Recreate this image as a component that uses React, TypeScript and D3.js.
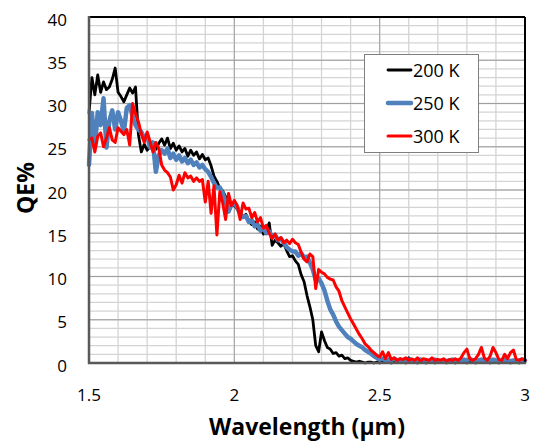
import React from "react";
import * as d3 from "d3";

const WL_START = 1.5;
const WL_STEP = 0.01;

const SERIES_NAMES = ["200 K", "250 K", "300 K"];

const qe200K = [
  28.9, 33.0, 31.0, 33.3, 31.3, 32.5, 31.6, 31.9, 32.8, 34.1,
  31.3, 30.8, 30.2, 31.0, 31.8, 31.2, 31.9, 26.4, 24.4, 25.3,
  24.6, 25.0, 25.2, 24.7, 25.4, 25.9, 25.2, 26.0, 24.8, 25.4,
  24.6, 25.1, 24.4, 24.8, 23.9, 24.6, 24.0, 24.4, 23.6, 24.1,
  23.5, 23.7, 22.8, 21.6, 21.0, 20.2, 19.9, 19.2, 18.8, 18.3,
  18.2, 17.8, 17.5, 16.8, 17.2, 16.4, 16.0, 16.3, 15.5, 15.8,
  14.9, 15.3, 16.2, 13.6, 14.2, 13.9, 13.5, 13.8, 13.0, 12.3,
  12.4, 11.8, 11.4, 10.2, 9.4, 7.8, 6.5, 5.0, 2.0, 1.3,
  3.6, 2.6, 1.8, 1.6, 1.1, 1.2, 0.8, 0.9, 0.5, 0.6,
  0.3, 0.2, 0.1, 0.2, 0.1, 0.0, 0.1, 0.1, 0.0, 0.1,
  0.0, 0.1, 0.2, 0.1, 0.0, 0.1, 0.1, 0.2, 0.1, 0.0,
  0.6, 0.2, 0.1, 0.0, 0.1, 0.1, 0.0, 0.1, 0.1, 0.0,
  0.1, 0.2, 0.1, 0.0, 0.1, 0.1, 0.0, 0.1, 0.2, 0.1,
  0.0, 0.1, 0.1, 0.0, 0.1, 0.1, 0.3, 0.1, 0.0, 0.1,
  0.1, 0.0, 0.1, 0.2, 0.1, 0.0, 0.1, 0.1, 0.0, 0.1,
  0.1,
];

const qe250K = [
  22.9, 28.9, 24.9, 29.0, 27.5, 30.6, 24.9, 28.0, 29.2, 27.0,
  29.0, 28.0, 26.7, 29.5, 29.8, 28.5, 27.5, 27.0, 26.7, 26.0,
  26.4, 24.9, 25.5, 22.1, 24.0, 24.6, 24.2, 24.8, 23.7, 24.2,
  23.5, 24.0, 23.3, 23.7, 23.1, 23.5, 22.9, 23.2, 22.6, 22.9,
  22.4, 22.1, 21.5, 20.8, 20.3, 20.3, 19.6, 18.6, 17.5, 18.3,
  18.5, 18.0, 17.2, 16.9, 17.0, 16.3, 16.5, 15.8, 16.0, 15.3,
  15.6, 15.0, 15.2, 14.6, 14.8, 14.2, 14.4, 13.9, 13.4, 13.1,
  12.9, 12.9, 12.4, 12.7, 12.2, 12.3, 11.6, 10.8, 9.6, 9.8,
  9.2, 8.4, 7.2, 6.2, 5.6, 4.8, 4.2, 3.8, 3.4, 3.0,
  2.8, 2.5, 2.2, 2.0, 1.8, 1.5, 1.3, 1.1, 0.8, 0.6,
  0.4, 0.5, 0.3, 0.4, 0.3, 0.5, 0.3, 0.4, 0.2, 0.3,
  0.4, 0.3, 0.2, 0.3, 0.4, 0.2, 0.3, 0.2, 0.3, 0.4,
  0.3, 0.2, 0.3, 0.2, 0.3, 0.4, 0.3, 0.2, 0.3, 0.4,
  0.3, 0.5, 0.3, 0.2, 0.3, 0.4, 0.3, 0.2, 0.3, 0.4,
  0.3, 0.2, 0.3, 0.4, 0.3, 0.2, 0.3, 0.2, 0.3, 0.4,
  0.3,
];

const qe300K = [
  25.8, 26.0, 24.4, 26.2, 26.6, 25.0, 26.0, 27.2, 25.8, 25.5,
  27.2, 26.8, 26.4, 27.0, 25.2, 30.0, 28.8, 27.9, 26.5, 25.5,
  26.7, 25.6, 24.4, 25.5, 24.8, 22.9, 22.3, 22.0, 21.5, 20.0,
  20.6, 21.7, 20.8, 22.0, 21.4, 21.6, 21.0, 21.4, 21.0, 21.2,
  18.6, 21.0, 17.3, 20.5, 14.8, 19.8, 18.5, 16.6, 19.6, 18.2,
  18.8, 18.2, 16.6, 18.5, 17.8, 17.9, 16.8, 17.4, 16.3, 16.8,
  15.6, 15.9, 15.0, 14.4, 14.9, 14.2, 14.5, 13.9, 14.2, 13.8,
  14.3, 13.9, 13.7, 12.8, 12.0, 11.7, 12.6, 12.3, 8.6, 10.8,
  10.5, 10.3, 9.9, 9.7, 9.6, 8.8, 8.3, 7.2, 6.5, 5.8,
  5.1, 4.5, 3.9, 3.3, 2.8, 2.2, 1.9, 1.5, 1.2, 0.9,
  0.7, 1.3, 0.5, 1.2, 0.4, 0.6, 0.3, 0.5, 0.4, 0.6,
  0.3, 0.5, 0.3, 0.6, 0.2, 0.5, 0.4, 0.3, 0.6, 0.3,
  0.4, 0.3, 0.5, 0.2, 0.4, 0.3, 0.5, 0.3, 0.6, 1.2,
  1.6, 0.5, 0.3, 0.5, 1.0, 1.8, 0.6, 0.3, 0.8, 1.8,
  1.2, 0.4, 0.3, 1.0, 0.5, 1.2, 1.5, 0.4, 0.3, 0.5,
  0.3,
];

const X_TICKS = [1.5, 2, 2.5, 3];
const X_TICK_LABELS = ["1.5", "2", "2.5", "3"];
const Y_TICKS = [0, 5, 10, 15, 20, 25, 30, 35, 40];
const Y_TICK_LABELS = ["0", "5", "10", "15", "20", "25", "30", "35", "40"];

const COLORS = ["#000000", "#4f81bd", "#ff0000"];
const WIDTHS = [2.8, 4.5, 3];

const W = 534;
const H = 443;
const PL = 89;
const PR = 525;
const PT = 17;
const PB = 363;
const FONT = "'Open Sans', 'DejaVu Sans', sans-serif";

export default function App() {
  const x = d3.scaleLinear().domain([1.5, 3]).range([PL, PR]);
  const y = d3.scaleLinear().domain([0, 40]).range([PB, PT]);
  const allSeries = [qe200K, qe250K, qe300K];

  const line = d3
    .line<number>()
    .x((_, i) => x(WL_START + i * WL_STEP))
    .y((d) => y(d));

  const minorX = d3.range(16).map((i) => 1.5 + i * 0.1);
  const minorY = d3.range(41);

  return (
    <svg width={W} height={H} style={{ position: "absolute", left: 0, top: 0, background: "#fff" }}>
      <rect x={0} y={0} width={W} height={H} fill="#fff" />
      {minorY.map((v) => (
        <line key={"my" + v} x1={PL} x2={PR} y1={y(v)} y2={y(v)} stroke="#d4d4d4" strokeWidth={1.3} />
      ))}
      {minorX.map((v, i) => (
        <line key={"mx" + i} x1={x(v)} x2={x(v)} y1={PT} y2={PB} stroke="#d4d4d4" strokeWidth={1.3} />
      ))}
      {Y_TICKS.map((v) => (
        <line key={"gy" + v} x1={PL} x2={PR} y1={y(v)} y2={y(v)} stroke="#a0a0a0" strokeWidth={1} />
      ))}
      {X_TICKS.map((v) => (
        <line key={"gx" + v} x1={x(v)} x2={x(v)} y1={PT} y2={PB} stroke="#a0a0a0" strokeWidth={1} />
      ))}
      {allSeries.map((s, k) => (
        <path
          key={"s" + k}
          d={line(s) || ""}
          fill="none"
          stroke={COLORS[k]}
          strokeWidth={WIDTHS[k]}
          strokeLinejoin="round"
          strokeLinecap="round"
        />
      ))}
      <line x1={PL} x2={PR} y1={PT} y2={PT} stroke="#000" strokeWidth={2} />
      <line x1={PR} x2={PR} y1={PT} y2={PB} stroke="#000" strokeWidth={2} />
      <line x1={PL} x2={PL} y1={PT - 1} y2={PB + 1} stroke="#595959" strokeWidth={2.5} />
      <line x1={PL - 1} x2={PR + 1} y1={PB} y2={PB} stroke="#595959" strokeWidth={2.5} />
      {Y_TICKS.map((v, i) => (
        <text key={"yl" + v} x={67} y={y(v) + 8.5} textAnchor="end" fontFamily={FONT} fontSize={17} fill="#000">
          {Y_TICK_LABELS[i]}
        </text>
      ))}
      {X_TICKS.map((v, i) => (
        <text key={"xl" + v} x={x(v)} y={401} textAnchor="middle" fontFamily={FONT} fontSize={17} fill="#000">
          {X_TICK_LABELS[i]}
        </text>
      ))}
      <text x={(PL + PR) / 2} y={435} textAnchor="middle" fontFamily={FONT} fontSize={23} fontWeight="bold" fill="#000">
        Wavelength (µm)
      </text>
      <text
        transform={`translate(34, ${(PT + PB) / 2 - 2}) rotate(-90)`}
        textAnchor="middle"
        fontFamily={FONT}
        fontSize={23}
        fontWeight="bold"
        fill="#000"
      >
        QE%
      </text>
      <rect x={364.5} y={54.5} width={114} height={98} fill="#fff" stroke="#7f7f7f" strokeWidth={1} />
      {SERIES_NAMES.map((n, k) => (
        <g key={"lg" + k}>
          <line x1={388} x2={411} y1={70 + k * 33} y2={70 + k * 33} stroke={COLORS[k]} strokeWidth={WIDTHS[k]} strokeLinecap="round" />
          <text x={413} y={70 + k * 33 + 6.5} fontFamily={FONT} fontSize={18} fill="#000">
            {n}
          </text>
        </g>
      ))}
    </svg>
  );
}
